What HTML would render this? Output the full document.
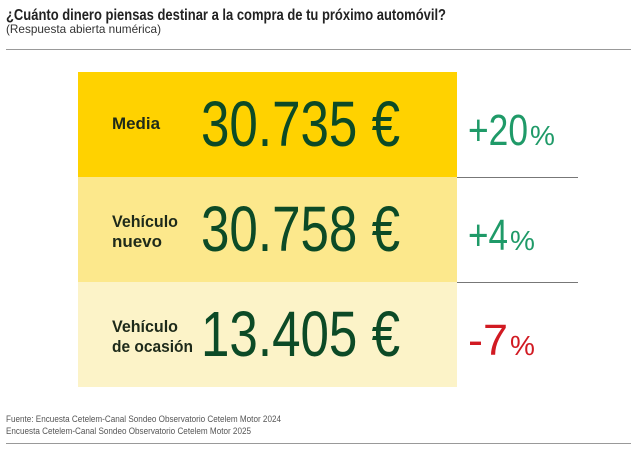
<!DOCTYPE html>
<html><head><meta charset="utf-8"><style>
body{margin:0;background:#fff;width:638px;height:461px;overflow:hidden;font-family:"Liberation Sans Narrow","Liberation Sans",sans-serif}
</style></head><body>
<svg width="638" height="461" xmlns="http://www.w3.org/2000/svg">
<text x="6" y="20" font-size="15.5" font-weight="bold" fill="#222" textLength="440" lengthAdjust="spacingAndGlyphs">¿Cuánto dinero piensas destinar a la compra de tu próximo automóvil?</text>
<text x="6" y="33" font-size="12" fill="#333" textLength="155" lengthAdjust="spacingAndGlyphs">(Respuesta abierta numérica)</text>
<line x1="6" y1="49.5" x2="631" y2="49.5" stroke="#999"/>
<g id="rows"></g>
<text x="6" y="422" font-size="9" fill="#555" textLength="275" lengthAdjust="spacingAndGlyphs">Fuente: Encuesta Cetelem-Canal Sondeo Observatorio Cetelem Motor 2024</text>
<text x="6" y="434" font-size="9" fill="#555" textLength="245" lengthAdjust="spacingAndGlyphs">Encuesta Cetelem-Canal Sondeo Observatorio Cetelem Motor 2025</text>
<line x1="6" y1="443.5" x2="631" y2="443.5" stroke="#999"/>
</svg>
<script>
const labels=[["Media"],["Vehículo","nuevo"],["Vehículo","de ocasión"]];
const values=["30.735 €","30.758 €","13.405 €"];
const changes=[20,4,-7];
const fills=["#FFD200","#FCE88C","#FCF3C8"];
const NS="http://www.w3.org/2000/svg";
const g=document.getElementById('rows');
function mk(t,a,txt){const e=document.createElementNS(NS,t);for(const k in a)e.setAttribute(k,a[k]);if(txt!=null)e.textContent=txt;g.appendChild(e);return e;}
function lw(s){return s==="Media"?48:s==="nuevo"?50:s==="Vehículo"?66:s.length*8.1;}
const top0=72,h=105;
values.forEach((v,i)=>{
 const y=top0+i*h;
 const r=mk('rect',{x:78,y:y,width:379,height:h,fill:fills[i]});
 
 
 const lb=labels[i];
 lb.forEach((s,j)=>{
  const ly=lb.length===1?y+57:y+50+j*20;
  const t=mk('text',{x:112,y:ly,'font-size':17,'font-weight':'bold',fill:'#1e2a1a',textLength:lw(s),lengthAdjust:'spacingAndGlyphs'},s);
  
  
 });
 const n=mk('text',{x:201,y:y+74,'font-size':64,fill:'#0c4a26',textLength:199,lengthAdjust:'spacingAndGlyphs'},v);
 
 
 const c=changes[i];
 const col=c<0?'#d11a22':'#1f9a68';
 const s=(c>0?'+':'-')+Math.abs(c);
 const p=mk('text',{x:468,y:y+73,'font-size':44,fill:col},'');
 
 
 const t1=document.createElementNS(NS,'tspan');t1.textContent=s;t1.setAttribute('textLength',String(s.length*20));t1.setAttribute('lengthAdjust','spacingAndGlyphs');p.appendChild(t1);
 const t2=document.createElementNS(NS,'tspan');t2.setAttribute('font-size','28');t2.setAttribute('dx','2');t2.textContent='%';p.appendChild(t2);
 if(i<2){const l=mk('line',{x1:78,y1:y+h+.5,x2:578,y2:y+h+.5,stroke:'#777'});
 
 }
});
</script>
</body></html>
